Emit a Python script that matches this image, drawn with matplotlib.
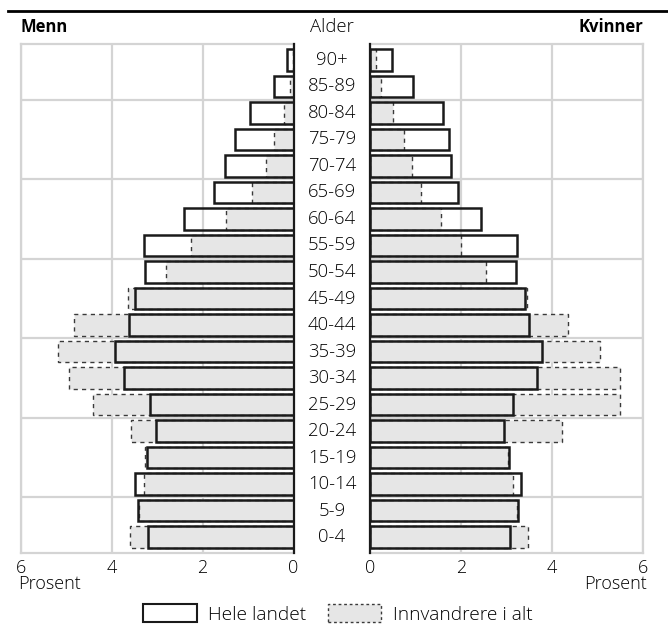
import matplotlib
matplotlib.use('Agg')
import matplotlib.pyplot as plt
import matplotlib.transforms as mtransforms
from matplotlib.patches import Patch
import numpy as np

plt.rcParams['font.family'] = ['Open Sans', 'DejaVu Sans']
plt.rcParams['font.weight'] = 'light'

ages = ['0-4', '5-9', '10-14', '15-19', '20-24', '25-29', '30-34', '35-39', '40-44',
        '45-49', '50-54', '55-59', '60-64', '65-69', '70-74', '75-79', '80-84', '85-89', '90+']

# prosent, hele landet
menn_alle = [3.20, 3.42, 3.49, 3.22, 3.02, 3.16, 3.74, 3.93, 3.62,
             3.48, 3.28, 3.30, 2.41, 1.76, 1.51, 1.29, 0.95, 0.42, 0.14]
kvinner_alle = [3.08, 3.25, 3.31, 3.05, 2.94, 3.14, 3.66, 3.77, 3.49,
                3.40, 3.20, 3.22, 2.43, 1.93, 1.79, 1.74, 1.61, 0.95, 0.49]
# prosent, innvandrere i alt
menn_innv = [3.59, 3.40, 3.29, 3.27, 3.58, 4.42, 4.94, 5.18, 4.84,
             3.65, 2.80, 2.25, 1.49, 0.91, 0.61, 0.42, 0.21, 0.07, 0.02]
kvinner_innv = [3.47, 3.24, 3.14, 3.03, 4.23, 5.49, 5.49, 5.05, 4.35,
                3.45, 2.56, 2.01, 1.55, 1.11, 0.93, 0.74, 0.51, 0.25, 0.13]

grid_c = '#d4d4d4'
fill_c = '#e6e6e6'
y = np.arange(len(ages))
h = 0.82
fs = 13

fig = plt.figure(figsize=(6.68, 6.34), dpi=100)
axL = fig.add_axes([21 / 668, 1 - 553 / 634, 272.5 / 668, 509 / 634])
axR = fig.add_axes([370 / 668, 1 - 553 / 634, 273 / 668, 509 / 634])

for ax, alle, innv in [(axL, menn_alle, menn_innv), (axR, kvinner_alle, kvinner_innv)]:
    ax.barh(y, innv, height=h, color=fill_c, edgecolor='#3a3a3a', linewidth=1.0,
            linestyle=(0, (3, 3)), zorder=2)
    ax.barh(y, alle, height=h, facecolor='none', edgecolor='#1a1a1a', linewidth=1.8, zorder=3)
    ax.set_xlim(0, 6)
    ax.set_ylim(-0.6, 18.6)
    ax.set_xticks([0, 2, 4, 6])
    ax.set_xticklabels(['0', '2', '4', '6'], fontsize=fs)
    ax.set_yticks([1.5, 4.5, 7.5, 10.5, 13.5, 16.5])
    ax.set_yticklabels([])
    ax.tick_params(length=0, pad=4)
    ax.grid(True, color=grid_c, linewidth=1.6, zorder=0)
    ax.set_axisbelow(True)
    for s in ax.spines.values():
        s.set_color(grid_c)
        s.set_linewidth(1.6)

axL.invert_xaxis()
axL.spines['right'].set_color('#1a1a1a')
axL.spines['right'].set_zorder(4)
axR.spines['left'].set_color('#1a1a1a')
axR.spines['left'].set_zorder(4)

# aldersgrupper i midten
tr = mtransforms.blended_transform_factory(fig.transFigure, axL.transData)
for yi, a in zip(y, ages):
    fig.text(332 / 668, yi, a, transform=tr, ha='center', va='center', fontsize=13.3)

fig.text(21 / 668, 1 - 27 / 634, 'Menn', ha='left', va='center', fontsize=12, fontweight='bold')
fig.text(643 / 668, 1 - 27 / 634, 'Kvinner', ha='right', va='center', fontsize=12, fontweight='bold')
fig.text(332 / 668, 1 - 27 / 634, 'Alder', ha='center', va='center', fontsize=13.3)
fig.text(18 / 668, 1 - 584 / 634, 'Prosent', ha='left', va='center', fontsize=fs)
fig.text(647 / 668, 1 - 584 / 634, 'Prosent', ha='right', va='center', fontsize=fs)

fig.add_artist(plt.Line2D([8 / 668, 1], [1 - 11 / 634, 1 - 11 / 634], color='black', linewidth=2))

handles = [Patch(facecolor='white', edgecolor='#1a1a1a', linewidth=1.5, label='Hele landet'),
           Patch(facecolor=fill_c, edgecolor='#3a3a3a', linewidth=1.0, linestyle=(0, (2, 2)),
                 label='Innvandrere i alt')]
fig.legend(handles=handles, loc='center', bbox_to_anchor=(338 / 668, 1 - 614 / 634), ncol=2,
           frameon=False, fontsize=13.8, handlelength=2.8, handleheight=1.0, columnspacing=1.1,
           handletextpad=0.6)

fig.savefig('out.png', dpi=100)
